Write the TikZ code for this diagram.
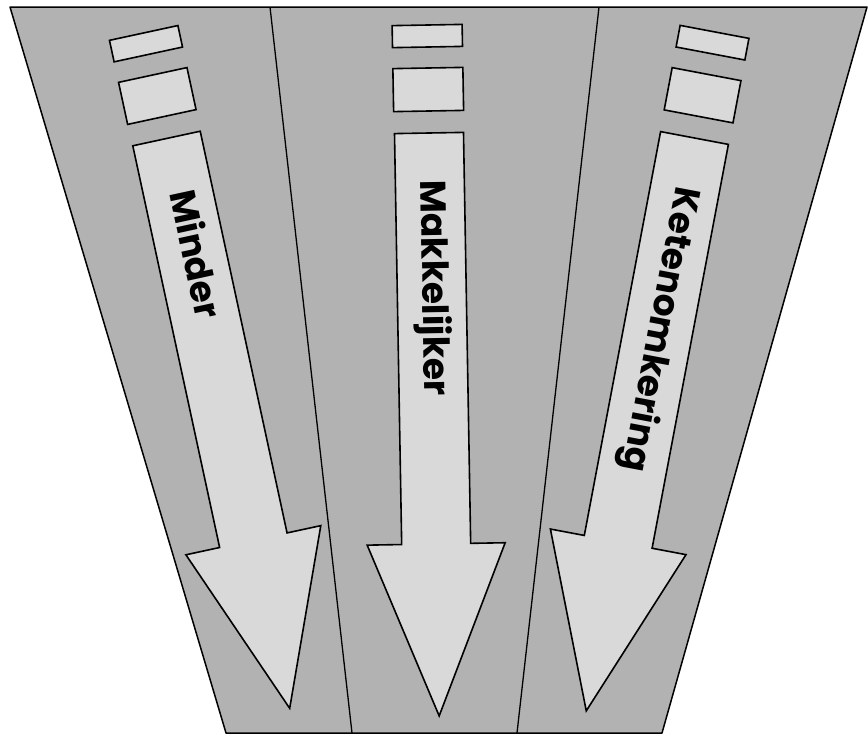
\documentclass[tikz,border=0pt]{standalone}
\usepackage{fontspec}
\setmainfont{Poppins}
\usetikzlibrary{positioning}

\colorlet{funnelgray}{black!30}
\colorlet{boxgray}{black!15}

\begin{document}
\begin{tikzpicture}[x=1pt,y=-1pt,
  panel/.style={fill=funnelgray, draw=black, line width=1.5pt, line join=round},
  divider/.style={draw=black, line width=1.3pt},
  box/.style={fill=boxgray, draw=black, line width=1.6pt},
  arrowtext/.style={font=\bfseries\fontsize{36}{36}\selectfont, rotate=-90,
                    transform shape, anchor=base west, inner sep=0pt}
]
\useasboundingbox (0,0) rectangle (868,734);

% funnel and the two dividers
\draw[panel] (10,7) -- (867,7) -- (662,733) -- (226,733) -- cycle;
\draw[divider] (270,7) -- (352,733);
\draw[divider] (599,7) -- (517,733);

% two boxes and a big arrow in every panel
\foreach \ox/\oy/\ang/\start/\txt [count=\i] in
  {166.5/138.5/12.2/54/Minder,
   429/133/1/47/Makkelijker,
   694.5/138/-10.7/50/Ketenomkering}
{
  \begin{scope}[shift={(\ox,\oy)}, rotate=\ang]
    \draw[box] (-35,-108) rectangle (35,-86);
    \draw[box] (-35,-65) rectangle (35,-22);
    \draw[box] (-34.5,0) -- (34.5,0) -- (34.5,411) -- (69,411)
      -- (0,583) -- (-69,411) -- (-34.5,411) -- cycle;
    \node[arrowtext] (txt\i) at (-9,\start) {\txt};
  \end{scope}
}
\end{tikzpicture}
\end{document}
